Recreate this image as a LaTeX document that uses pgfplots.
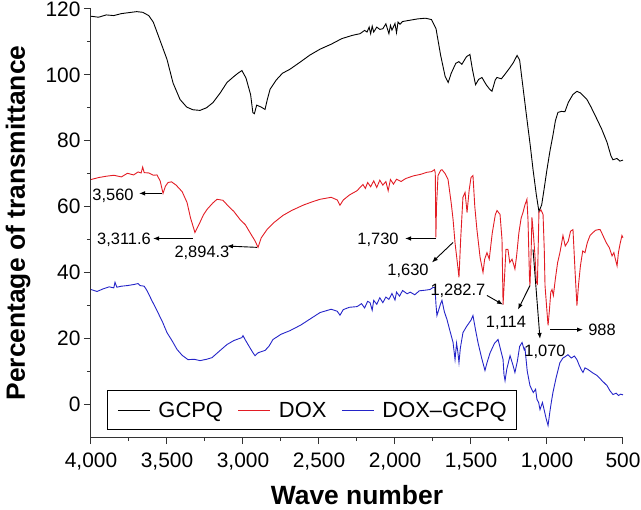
\documentclass[border=0pt]{standalone}
\usepackage{fontspec}
\setmainfont{Liberation Sans}
\usepackage{pgfplots}
\pgfplotsset{compat=1.18}
\usetikzlibrary{arrows.meta}
\definecolor{cred}{RGB}{226,28,36}
\definecolor{cblue}{RGB}{36,36,200}
\begin{document}
\begin{tikzpicture}[font=\fontsize{21}{25}\selectfont]
\begin{axis}[
  scale only axis, width=532bp, height=428bp,
  at={(0,0)}, anchor=south west,
  xmin=500, xmax=4000, ymin=-10, ymax=120,
  x dir=reverse,
  axis x line*=bottom, axis y line*=left,
  axis line style={black!80, line width=1bp, -},
  xtick={500,1000,...,4000}, ytick={0,20,...,120},
  minor x tick num=1, minor y tick num=1,
  tick align=outside,
  major tick length=7bp, minor tick length=4bp,
  tick style={black!80, line width=1bp},
  /pgf/number format/assume math mode=true,
  /pgf/number format/1000 sep={,},
  ticklabel style={font=\fontsize{21}{25}\selectfont},
  xticklabel style={yshift=-5bp},
  clip=false,
  legend columns=3,
  legend style={at={(rel axis cs:0.030,0.0163)}, anchor=south west,
    draw=black, line width=1bp, font=\fontsize{22}{25}\selectfont,
    inner xsep=10bp, inner ysep=11bp,
    nodes={inner xsep=0bp, inner ysep=0bp},
    /tikz/every odd column/.append style={column sep=8bp},
    /tikz/every even column/.append style={column sep=15bp}},
  legend image code/.code={\draw[#1, line width=1bp] (0bp,0bp) -- (32bp,0bp);},
]
\addplot[black, line width=0.9bp] coordinates {
(4000,117.8)(3950,117.5)(3900,118.2)(3850,118.0)(3800,118.6)(3750,118.9)(3700,119.2)(3660,119.0)(3620,118.0)(3590,116.0)(3550,111)(3500,104.7)(3460,97.5)(3414,92.5)(3370,90.2)(3330,89.4)(3283,89.2)(3240,90)(3197,91.6)(3150,94.5)(3105,97.7)(3060,99.5)(3030,100.6)(3007,101.3)(2980,99)(2950,94)(2935,88.5)(2925,88.2)(2910,90.8)(2880,90.2)(2855,89.5)(2840,92.5)(2822,95.6)(2780,98.5)(2740,100.5)(2691,101.7)(2620,104)(2560,106)(2493,107.8)(2420,109.3)(2350,111)(2280,112)(2230,112.5)(2200,113.5)(2184,113.0)(2170,114.5)(2160,112.5)(2150,114.8)(2140,113)(2120,114.5)(2100,113.8)(2080,114)(2060,115.5)(2040,112.5)(2030,115)(2020,113.6)(2000,115.6)(1990,112.8)(1980,116)(1967,115.4)(1950,116.2)(1900,116.6)(1850,117.0)(1800,117.2)(1760,116.8)(1730,114)(1700,106)(1670,99.5)(1650,97.7)(1630,100.5)(1600,103.5)(1580,104.0)(1560,103.2)(1530,105.5)(1507,106.2)(1490,101.5)(1470,97)(1450,98.6)(1428,99.2)(1400,97)(1380,95.8)(1362,95.0)(1340,98.5)(1329,99.2)(1300,98.8)(1276,100.2)(1250,101.8)(1220,103.8)(1197,105.9)(1180,104.5)(1160,97)(1132,86.5)(1110,78.5)(1092,71.3)(1070,63.5)(1053,58.5)(1035,60.5)(1020,65)(1000,71.3)(980,77)(961,81.6)(945,86)(928,88.6)(905,88.9)(882,88.8)(860,91.6)(830,94)(803,95)(780,94.5)(760,93.6)(737,92.5)(710,90.2)(671,86.5)(640,83.5)(605,79.5)(580,75.5)(566,74.2)(540,74.6)(520,73.8)(500,74.1)
};
\addlegendentry{GCPQ}
\addplot[cred, line width=0.9bp] coordinates {
(4000,68.2)(3950,68.8)(3900,69.2)(3850,69.5)(3800,69.0)(3760,70.1)(3720,69.6)(3690,70.5)(3670,70.2)(3660,72.0)(3650,70.3)(3620,70.2)(3590,69.5)(3566,69.6)(3545,67.8)(3526,64.0)(3510,66.2)(3493,67.3)(3470,67.5)(3440,66.5)(3400,64.5)(3368,61.2)(3345,56.5)(3316,52.1)(3290,54.5)(3260,57.5)(3237,59.1)(3200,61)(3171,62.2)(3132,61.9)(3100,60.3)(3060,58.5)(3020,56.1)(2985,54.5)(2954,52.1)(2920,49.5)(2901,47.6)(2880,50.5)(2842,53)(2800,55)(2737,57.3)(2680,58.8)(2600,60.5)(2540,61.5)(2493,62.2)(2420,62.8)(2380,62.0)(2362,60.4)(2340,62.0)(2300,63.5)(2250,64.8)(2211,66.7)(2195,65.5)(2180,67.3)(2160,66.0)(2140,67.8)(2120,65.8)(2100,68.0)(2080,66.5)(2060,67.6)(2045,64.8)(2030,68.2)(2010,66.8)(1990,68.3)(1960,67.6)(1930,68.5)(1880,69.3)(1830,69.8)(1790,70.4)(1760,70.6)(1740,71.2)(1735,70.2)(1731,50.6)(1727,60)(1717,69.4)(1700,71.0)(1691,71.2)(1670,70.0)(1651,68.2)(1630,61)(1618,56.1)(1605,49.0)(1590,43)(1579,38.5)(1568,50)(1553,62.8)(1539,64.3)(1526,58.2)(1512,65)(1500,68.8)(1487,69.4)(1475,60)(1461,53.0)(1440,44.5)(1421,40.0)(1410,44)(1395,46.0)(1380,44)(1360,52)(1340,57.5)(1329,58.8)(1309,57.6)(1296,50)(1289,30.2)(1280,38)(1270,47)(1257,47.0)(1245,43)(1230,44.0)(1220,42.5)(1211,41.0)(1200,45)(1185,52)(1170,56.5)(1158,58.2)(1145,60.5)(1132,62.2)(1125,56)(1115,38)(1112,36.0)(1105,45)(1099,56.7)(1090,52)(1079,45.0)(1070,37)(1063,36.5)(1053,58.2)(1040,59.0)(1026,57.6)(1018,47)(1013,36.0)(1000,28)(993,23.9)(985,28)(975,34)(967,34.8)(958,33)(945,38)(930,43)(915,46.0)(905,48.5)(895,51.2)(880,48)(860,49.5)(845,52.5)(829,53.0)(815,40)(803,29.9)(793,36)(780,42)(765,46.5)(750,46.0)(735,49)(717,51.2)(700,52)(680,52.8)(660,53)(651,53.0)(640,52)(625,50.5)(610,49)(590,47.5)(572,45.0)(560,46)(550,44)(539,42.0)(530,46)(520,48.5)(507,51.2)(500,50.5)
};
\addlegendentry{DOX}
\addplot[cblue, line width=0.9bp] coordinates {
(4000,34.8)(3960,34.2)(3920,35.0)(3880,35.6)(3850,35.3)(3842,37.0)(3830,35.5)(3800,35.8)(3760,36.0)(3720,36.3)(3690,36.6)(3678,36.0)(3650,35.8)(3632,34.5)(3600,31.5)(3566,28.4)(3530,25)(3500,21.7)(3470,19.5)(3434,16.6)(3400,14.8)(3362,13.5)(3320,13.6)(3283,13.2)(3240,13.6)(3204,14.1)(3150,16.3)(3105,18.1)(3060,19.3)(3007,20.2)(3000,20.8)(2985,19.5)(2967,18.1)(2940,16)(2921,14.7)(2900,15.6)(2855,16.3)(2830,17.5)(2803,19.6)(2750,21.2)(2691,22.3)(2620,24)(2560,25.8)(2493,27.8)(2420,28.8)(2380,28.2)(2362,27.0)(2340,28.7)(2300,29.4)(2250,29.6)(2220,30.5)(2200,29.2)(2180,31.2)(2164,30.8)(2150,28.5)(2140,31.5)(2120,30.3)(2100,32.3)(2080,30.8)(2060,32.5)(2040,31.8)(2020,33.6)(2000,31.6)(1990,34.0)(1970,32.8)(1950,34.5)(1920,33.5)(1900,34.0)(1870,33.2)(1840,34.4)(1800,34.6)(1770,34.8)(1750,35.4)(1737,35.4)(1730,30)(1724,26.9)(1710,29)(1700,30.5)(1691,31.5)(1675,28)(1658,25.7)(1640,22.5)(1618,18.7)(1605,13.5)(1595,18.5)(1587,16)(1579,12.6)(1570,17)(1553,21.7)(1530,23.5)(1500,25.5)(1487,26.9)(1470,22.5)(1454,18.7)(1430,14)(1408,10.2)(1395,12.5)(1375,15.5)(1345,18.5)(1322,19.6)(1305,16.5)(1289,13.5)(1283,9)(1276,7.1)(1265,10.5)(1243,14.7)(1225,12)(1211,9.6)(1195,13)(1180,17.5)(1164,18.7)(1150,16.5)(1145,17)(1130,10)(1112,5.6)(1090,3.5)(1075,4.5)(1066,1.4)(1055,0.5)(1046,-1.7)(1030,0.5)(1015,-2.5)(1005,-4.5)(993,-6.5)(980,-2)(970,1)(961,3.5)(940,8)(915,12.6)(895,14)(880,14.4)(862,15.0)(840,14)(820,14.6)(803,13.5)(790,12)(775,10.5)(763,9.6)(750,11)(730,10.5)(700,9.5)(671,8.7)(640,7.2)(605,5.6)(585,4)(566,2.9)(545,3.3)(530,2.6)(515,3.0)(500,2.8)
};
\addlegendentry{DOX–GCPQ}
% annotations
\begin{scope}[every node/.style={font=\fontsize{16.5}{18}\selectfont, inner sep=0pt},
  arr/.style={-{Latex[length=6bp,width=4.5bp]}, line width=0.9bp, black}]
\node at (axis cs:3855,63.4) {3,560};
\draw[arr] (axis cs:3533,64) -- (axis cs:3684,64);
\node at (axis cs:3783,50) {3,311.6};
\draw[arr] (axis cs:3329,50.3) -- (axis cs:3592,50.3);
\node at (axis cs:3270,46) {2,894.3};
\draw[arr] (axis cs:2908,47.6) -- (axis cs:3105,48);
\node at (axis cs:2112,50) {1,730};
\draw[arr] (axis cs:1730,50.3) -- (axis cs:1934,50.3);
\node at (axis cs:1914,40.6) {1,630};
\draw[arr] (axis cs:1618,49.1) -- (axis cs:1757,43);
\node at (axis cs:1586,34.5) {1,282.7};
\draw[arr] (axis cs:1395,33) -- (axis cs:1289,30.2);
\node at (axis cs:1270,24.8) {1,114};
\draw[arr] (axis cs:1112,36) -- (axis cs:1191,28.7);
\node at (axis cs:1013,16) {1,070};
\draw[arr] (axis cs:1092,47) -- (axis cs:1046,19.8);
\node at (axis cs:638,22.6) {988};
\draw[arr] (axis cs:980,22.6) -- (axis cs:763,22.6);
\end{scope}
\end{axis}
\node[rotate=90, anchor=base, font=\fontsize{26.5}{30}\selectfont\bfseries] at (-66bp,214bp) {Percentage of transmittance};
\node[anchor=base, font=\fontsize{26.5}{30}\selectfont\bfseries] at (266bp,-67bp) {Wave number};
\pgfresetboundingbox
\useasboundingbox (-91bp,-73bp) rectangle (550bp,437bp);
\end{tikzpicture}
\end{document}
